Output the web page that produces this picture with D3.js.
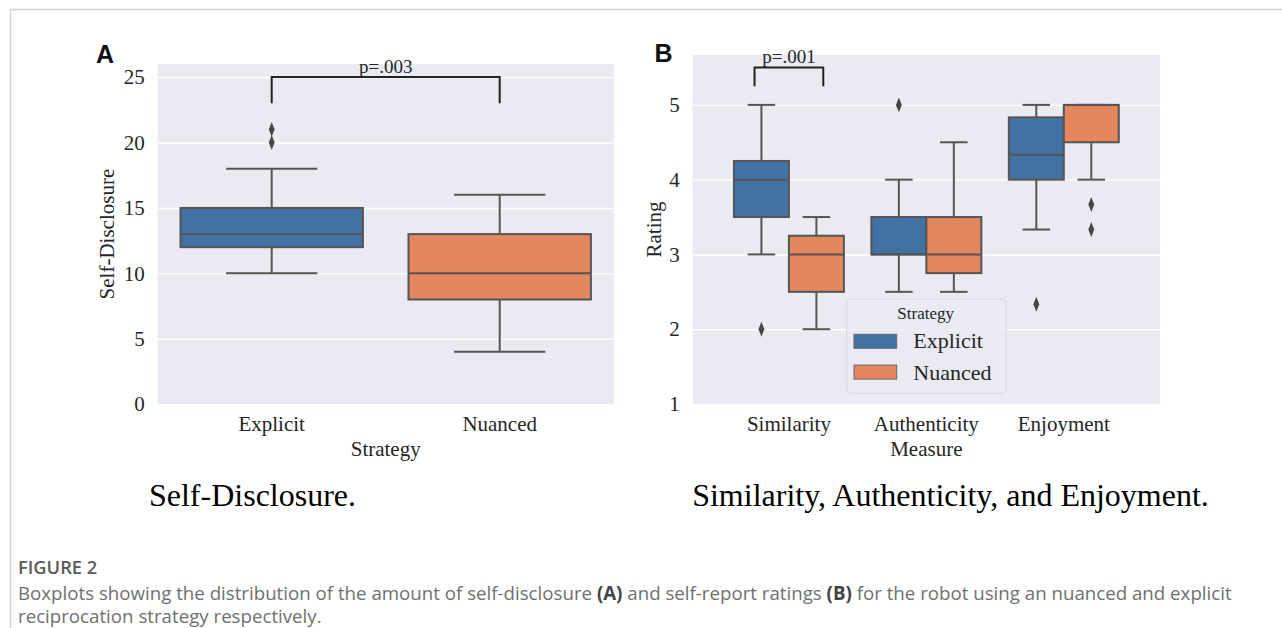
<!DOCTYPE html>
<html><head><meta charset="utf-8">
<script src="https://cdn.jsdelivr.net/npm/d3@7/dist/d3.min.js"></script>
<style>body{margin:0;background:#fff} svg{display:block}</style>
</head><body><svg id="fig" width="1282" height="628"></svg>
<script>
// ---------- DATA ----------
const strategies = ["Explicit", "Nuanced"];
const strategyColors = ["#4272a5", "#e3875f"];

// Panel A: Self-Disclosure by strategy
const sdTicks = [0, 5, 10, 15, 20, 25];
const sdWhiskerLow = [10, 4];
const sdQ1 = [12, 8];
const sdMedian = [13, 10];
const sdQ3 = [15, 13];
const sdWhiskerHigh = [18, 16];
const sdOutliers = [[20, 21], []];

// Panel B: Ratings by measure and strategy
const measures = ["Similarity", "Authenticity", "Enjoyment"];
const ratingTicks = [1, 2, 3, 4, 5];
const explicitLow = [3, 2.5, 3.333];
const explicitQ1 = [3.5, 3, 4];
const explicitMedian = [4, 3, 4.333];
const explicitQ3 = [4.25, 3.5, 4.833];
const explicitHigh = [5, 4, 5];
const explicitOutliers = [[2], [5], [2.333]];
const nuancedLow = [2, 2.5, 4];
const nuancedQ1 = [2.5, 2.75, 4.5];
const nuancedMedian = [3, 3, 5];
const nuancedQ3 = [3.25, 3.5, 5];
const nuancedHigh = [3.5, 4.5, 5];
const nuancedOutliers = [[], [], [3.667, 3.333]];

// significance brackets
const bracketA = {from: "Explicit", to: "Nuanced", top: 25, bottom: 23, label: "p=.003"};
const bracketB = {group: "Similarity", from: -0.25, to: 0.25, top: 5.5, bottom: 5.25, label: "p=.001"};

// ---------- DRAW ----------
const svg = d3.select("#fig");
const SERIF = "'Liberation Serif', 'Times New Roman', serif";
const BG = "#eaeaf2", LINE = "#555555";

// outer frame
svg.append("path").attr("d", "M10.5,628V9.5H1282").attr("fill", "none")
  .attr("stroke", "#d2d2d2").attr("stroke-width", 1.5);

function drawBox(g, cx, w, yS, low, q1, med, q3, high, outl, color) {
  const cap = w / 2;
  g.append("line").attr("x1", cx).attr("x2", cx).attr("y1", yS(q3)).attr("y2", yS(high))
    .attr("stroke", LINE).attr("stroke-width", 2);
  g.append("line").attr("x1", cx).attr("x2", cx).attr("y1", yS(q1)).attr("y2", yS(low))
    .attr("stroke", LINE).attr("stroke-width", 2);
  [low, high].forEach(v => g.append("line").attr("x1", cx - cap / 2).attr("x2", cx + cap / 2)
    .attr("y1", yS(v)).attr("y2", yS(v)).attr("stroke", LINE).attr("stroke-width", 2));
  g.append("rect").attr("x", cx - w / 2).attr("width", w).attr("y", yS(q3))
    .attr("height", yS(q1) - yS(q3)).attr("fill", color).attr("stroke", LINE).attr("stroke-width", 2);
  g.append("line").attr("x1", cx - w / 2).attr("x2", cx + w / 2).attr("y1", yS(med)).attr("y2", yS(med))
    .attr("stroke", LINE).attr("stroke-width", 2);
  const sym = d3.symbol(d3.symbolDiamond, 64);
  outl.forEach(v => g.append("path").attr("d", sym())
    .attr("transform", `translate(${cx},${yS(v)}) scale(0.68,1)`).attr("fill", "#464646"));
}

function styleAxis(g) {
  g.select(".domain").remove();
  g.selectAll("text").attr("font-family", SERIF).attr("font-size", 21).attr("fill", "#262626");
}

// ===== Panel A =====
const aL = 157.7, aR = 613.7, aT = 64, aB = 404.2;
const xA = d3.scaleBand().domain(strategies).range([aL, aR]).padding(0);
const yA = d3.scaleLinear().domain([0, 26]).range([aB, aT]);
const gA = svg.append("g");
gA.append("rect").attr("x", aL).attr("y", aT).attr("width", aR - aL).attr("height", aB - aT).attr("fill", BG);
gA.append("g").attr("transform", `translate(${aL},0)`)
  .call(d3.axisLeft(yA).tickValues(sdTicks).tickSize(-(aR - aL)).tickFormat(""))
  .call(g => { g.select(".domain").remove(); g.selectAll("line").attr("stroke", "#fff").attr("stroke-width", 1.4); });
gA.append("g").attr("transform", `translate(${aL},0)`)
  .call(d3.axisLeft(yA).tickValues(sdTicks).tickFormat(d3.format("d")).tickSize(0).tickPadding(13)).call(styleAxis);
gA.append("g").attr("transform", `translate(0,${aB})`)
  .call(d3.axisBottom(xA).tickSize(0).tickPadding(12)).call(styleAxis);
strategies.forEach((s, i) => {
  drawBox(gA, xA(s) + xA.bandwidth() / 2, xA.bandwidth() * 0.8, yA,
    sdWhiskerLow[i], sdQ1[i], sdMedian[i], sdQ3[i], sdWhiskerHigh[i], sdOutliers[i], strategyColors[i]);
});
{
  const x1 = xA(bracketA.from) + xA.bandwidth() / 2, x2 = xA(bracketA.to) + xA.bandwidth() / 2;
  gA.append("path").attr("d", d3.line()([[x1, yA(bracketA.bottom)], [x1, yA(bracketA.top)], [x2, yA(bracketA.top)], [x2, yA(bracketA.bottom)]]))
    .attr("fill", "none").attr("stroke", "#222").attr("stroke-width", 2);
  gA.append("text").attr("x", (x1 + x2) / 2).attr("y", yA(bracketA.top) - 4.5).attr("text-anchor", "middle")
    .attr("font-family", SERIF).attr("font-size", 19).attr("fill", "#262626").text(bracketA.label);
}
gA.append("text").attr("transform", `translate(114,${(aT + aB) / 2}) rotate(-90)`).attr("text-anchor", "middle")
  .attr("font-family", SERIF).attr("font-size", 21).attr("fill", "#262626").text("Self-Disclosure");
gA.append("text").attr("x", (aL + aR) / 2).attr("y", 456).attr("text-anchor", "middle")
  .attr("font-family", SERIF).attr("font-size", 21).attr("fill", "#262626").text("Strategy");
gA.append("text").attr("x", 96).attr("y", 62.5).attr("font-family", "'Liberation Sans', Arial, sans-serif")
  .attr("font-weight", "bold").attr("font-size", 25).attr("fill", "#111").text("A");

// ===== Panel B =====
const bL = 692.7, bR = 1160, bT = 55, bB = 404;
const xB = d3.scaleBand().domain(measures).range([bL, bR]).paddingInner(0).paddingOuter(0.2);
const step = xB.step();
const hue = d3.scaleBand().domain(strategies).range([0.1 * step, 0.9 * step]);
const yB = d3.scaleLinear().domain([1, 5.667]).range([bB, bT]);
const gB = svg.append("g");
gB.append("rect").attr("x", bL).attr("y", bT).attr("width", bR - bL).attr("height", bB - bT).attr("fill", BG);
gB.append("g").attr("transform", `translate(${bL},0)`)
  .call(d3.axisLeft(yB).tickValues(ratingTicks).tickSize(-(bR - bL)).tickFormat(""))
  .call(g => { g.select(".domain").remove(); g.selectAll("line").attr("stroke", "#fff").attr("stroke-width", 1.4); });
gB.append("g").attr("transform", `translate(${bL},0)`)
  .call(d3.axisLeft(yB).tickValues(ratingTicks).tickFormat(d3.format("d")).tickSize(0).tickPadding(13)).call(styleAxis);
gB.append("g").attr("transform", `translate(0,${bB})`)
  .call(d3.axisBottom(xB).tickSize(0).tickPadding(12)).call(styleAxis);
const seriesB = [
  {low: explicitLow, q1: explicitQ1, med: explicitMedian, q3: explicitQ3, high: explicitHigh, out: explicitOutliers},
  {low: nuancedLow, q1: nuancedQ1, med: nuancedMedian, q3: nuancedQ3, high: nuancedHigh, out: nuancedOutliers}
];
measures.forEach((m, j) => {
  strategies.forEach((s, i) => {
    const d = seriesB[i];
    drawBox(gB, xB(m) + hue(s) + hue.bandwidth() / 2, hue.bandwidth(), yB,
      d.low[j], d.q1[j], d.med[j], d.q3[j], d.high[j], d.out[j], strategyColors[i]);
  });
});
{
  const c = xB(bracketB.group) + step / 2;
  const x1 = c + bracketB.from * step, x2 = c + bracketB.to * step;
  gB.append("path").attr("d", d3.line()([[x1, yB(bracketB.bottom)], [x1, yB(bracketB.top)], [x2, yB(bracketB.top)], [x2, yB(bracketB.bottom)]]))
    .attr("fill", "none").attr("stroke", "#222").attr("stroke-width", 2);
  gB.append("text").attr("x", c).attr("y", yB(bracketB.top) - 4.5).attr("text-anchor", "middle")
    .attr("font-family", SERIF).attr("font-size", 19).attr("fill", "#262626").text(bracketB.label);
}
gB.append("text").attr("transform", `translate(661,${(bT + bB) / 2}) rotate(-90)`).attr("text-anchor", "middle")
  .attr("font-family", SERIF).attr("font-size", 21).attr("fill", "#262626").text("Rating");
gB.append("text").attr("x", xB("Authenticity") + step / 2).attr("y", 456).attr("text-anchor", "middle")
  .attr("font-family", SERIF).attr("font-size", 21).attr("fill", "#262626").text("Measure");
gB.append("text").attr("x", 654.5).attr("y", 62).attr("font-family", "'Liberation Sans', Arial, sans-serif")
  .attr("font-weight", "bold").attr("font-size", 25).attr("fill", "#111").text("B");

// legend
const lg = gB.append("g").attr("transform", "translate(846.7,299)");
lg.append("rect").attr("width", 159.3).attr("height", 94.3).attr("rx", 4)
  .attr("fill", BG).attr("fill-opacity", 0.85).attr("stroke", "#d6d6de").attr("stroke-width", 1);
lg.append("text").attr("x", 79).attr("y", 19.5).attr("text-anchor", "middle")
  .attr("font-family", SERIF).attr("font-size", 17).attr("fill", "#262626").text("Strategy");
strategies.forEach((s, i) => {
  lg.append("rect").attr("x", 7.3).attr("y", 35.3 + i * 30.8).attr("width", 42.7).attr("height", 14)
    .attr("fill", strategyColors[i]).attr("stroke", "#666").attr("stroke-width", 1);
  lg.append("text").attr("x", 66.6).attr("y", 49.3 + i * 31.5)
    .attr("font-family", SERIF).attr("font-size", 22).attr("fill", "#262626").text(s);
});

// ---------- captions ----------
svg.append("text").attr("x", 252.5).attr("y", 506).attr("text-anchor", "middle")
  .attr("font-family", SERIF).attr("font-size", 32).attr("fill", "#000").text("Self-Disclosure.");
svg.append("text").attr("x", 950.5).attr("y", 506).attr("text-anchor", "middle")
  .attr("font-family", SERIF).attr("font-size", 32).attr("fill", "#000").text("Similarity, Authenticity, and Enjoyment.");

const SANS = "'Open Sans', 'Noto Sans', sans-serif";
svg.append("text").attr("x", 18).attr("y", 574).attr("font-family", SANS).attr("font-weight", 600)
  .attr("font-size", 18.3).attr("fill", "#5a5a5a").text("FIGURE 2");
const cap1 = svg.append("text").attr("x", 18).attr("y", 600).attr("font-family", SANS)
  .attr("font-size", 18.7).attr("fill", "#707070");
cap1.append("tspan").text("Boxplots showing the distribution of the amount of self-disclosure ");
cap1.append("tspan").attr("font-weight", "bold").attr("fill", "#444").text("(A)");
cap1.append("tspan").text(" and self-report ratings ");
cap1.append("tspan").attr("font-weight", "bold").attr("fill", "#444").text("(B)");
cap1.append("tspan").text(" for the robot using an nuanced and explicit");
svg.append("text").attr("x", 18).attr("y", 623).attr("font-family", SANS)
  .attr("font-size", 18.7).attr("fill", "#707070").text("reciprocation strategy respectively.");
</script></body></html>
